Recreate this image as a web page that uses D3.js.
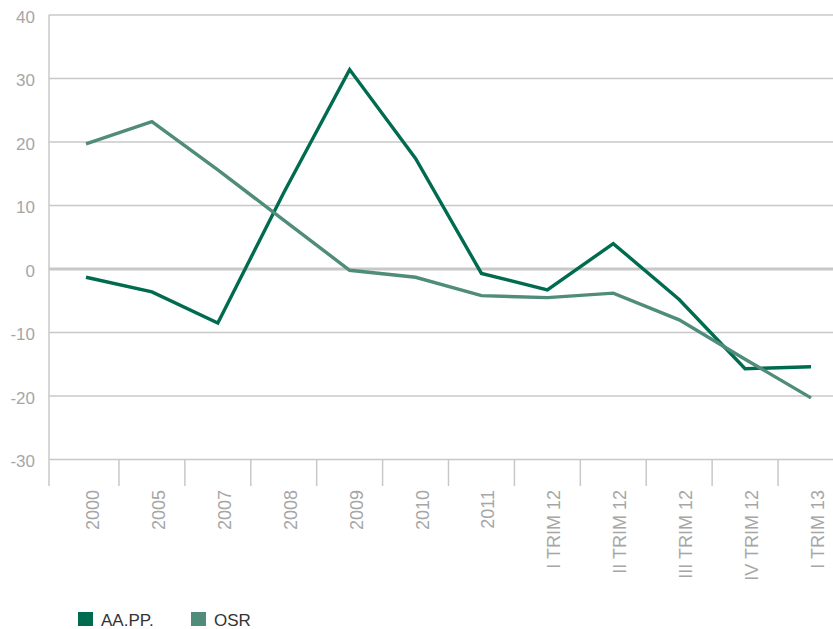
<!DOCTYPE html>
<html>
<head>
<meta charset="utf-8">
<script src="https://cdn.jsdelivr.net/npm/d3@7"></script>
<style>
  html, body { margin: 0; padding: 0; background: #fff; }
  svg { display: block; font-family: "Liberation Sans", Arial, sans-serif; }
</style>
</head>
<body>
<svg id="chart" width="833" height="629"></svg>
<script>
const categories = ["2000", "2005", "2007", "2008", "2009", "2010", "2011",
  "I TRIM 12", "II TRIM 12", "III TRIM 12", "IV TRIM 12", "I TRIM 13"];
const aappValues = [-1.3, -3.6, -8.5, 12.0, 31.4, 17.4, -0.7, -3.3, 4.0, -4.8, -15.7, -15.4];
const osrValues  = [19.7, 23.2, 15.6, 7.7, -0.2, -1.3, -4.2, -4.5, -3.8, -8.0, -14.2, -20.3];
const yTicks = [40, 30, 20, 10, 0, -10, -20, -30];
const seriesNames = ["AA.PP.", "OSR"];
const colors = ["#006b4f", "#4f8c79"];

const svg = d3.select("#chart");
const axisLeft = 49, plotRight = 833, axisBottomTickEnd = 486;

const x = d3.scalePoint().domain(categories).range([86, 811]);
const y = d3.scaleLinear().domain([-30, 40]).range([459.5, 15]);
const step = x.step();

// gridlines
svg.append("g").selectAll("line").data(yTicks).join("line")
  .attr("x1", axisLeft).attr("x2", plotRight)
  .attr("y1", d => y(d)).attr("y2", d => y(d))
  .attr("stroke", "#c8c8c8")
  .attr("stroke-width", d => d === 0 ? 3 : 1.5);

// y axis line
svg.append("line")
  .attr("x1", axisLeft).attr("x2", axisLeft)
  .attr("y1", y(40)).attr("y2", axisBottomTickEnd)
  .attr("stroke", "#c8c8c8").attr("stroke-width", 1.5);

// y tick labels
svg.append("g").selectAll("text").data(yTicks).join("text")
  .attr("x", 35).attr("y", d => y(d) + 2)
  .attr("dy", "0.35em")
  .attr("text-anchor", "end")
  .attr("font-size", 17)
  .attr("fill", "#a6a6a6")
  .text(d => d);

// x category boundary ticks
const boundaries = categories.slice(1).map(c => x(c) - step / 2);
svg.append("g").selectAll("line").data(boundaries).join("line")
  .attr("x1", d => d).attr("x2", d => d)
  .attr("y1", y(-30)).attr("y2", axisBottomTickEnd)
  .attr("stroke", "#c8c8c8").attr("stroke-width", 1.5);

// x labels
svg.append("g").selectAll("text").data(categories).join("text")
  .attr("transform", d => `translate(${x(d) + 13},490) rotate(-90)`)
  .attr("text-anchor", "end")
  .attr("font-size", 18)
  .attr("fill", "#a6a6a6")
  .text(d => d);

// lines
const line = d3.line().x((d, i) => x(categories[i])).y(d => y(d));
[aappValues, osrValues].forEach((vals, k) => {
  svg.append("path")
    .datum(vals)
    .attr("d", line)
    .attr("fill", "none")
    .attr("stroke", colors[k])
    .attr("stroke-width", 3.4)
    .attr("stroke-linejoin", "miter");
});

// legend
const legendX = [78, 191];
seriesNames.forEach((name, i) => {
  svg.append("rect")
    .attr("x", legendX[i]).attr("y", 612)
    .attr("width", 15).attr("height", 14)
    .attr("fill", colors[i]);
  svg.append("text")
    .attr("x", legendX[i] + 23).attr("y", 626)
    .attr("font-size", 17)
    .attr("fill", "#333333")
    .text(name);
});
</script>
</body>
</html>
